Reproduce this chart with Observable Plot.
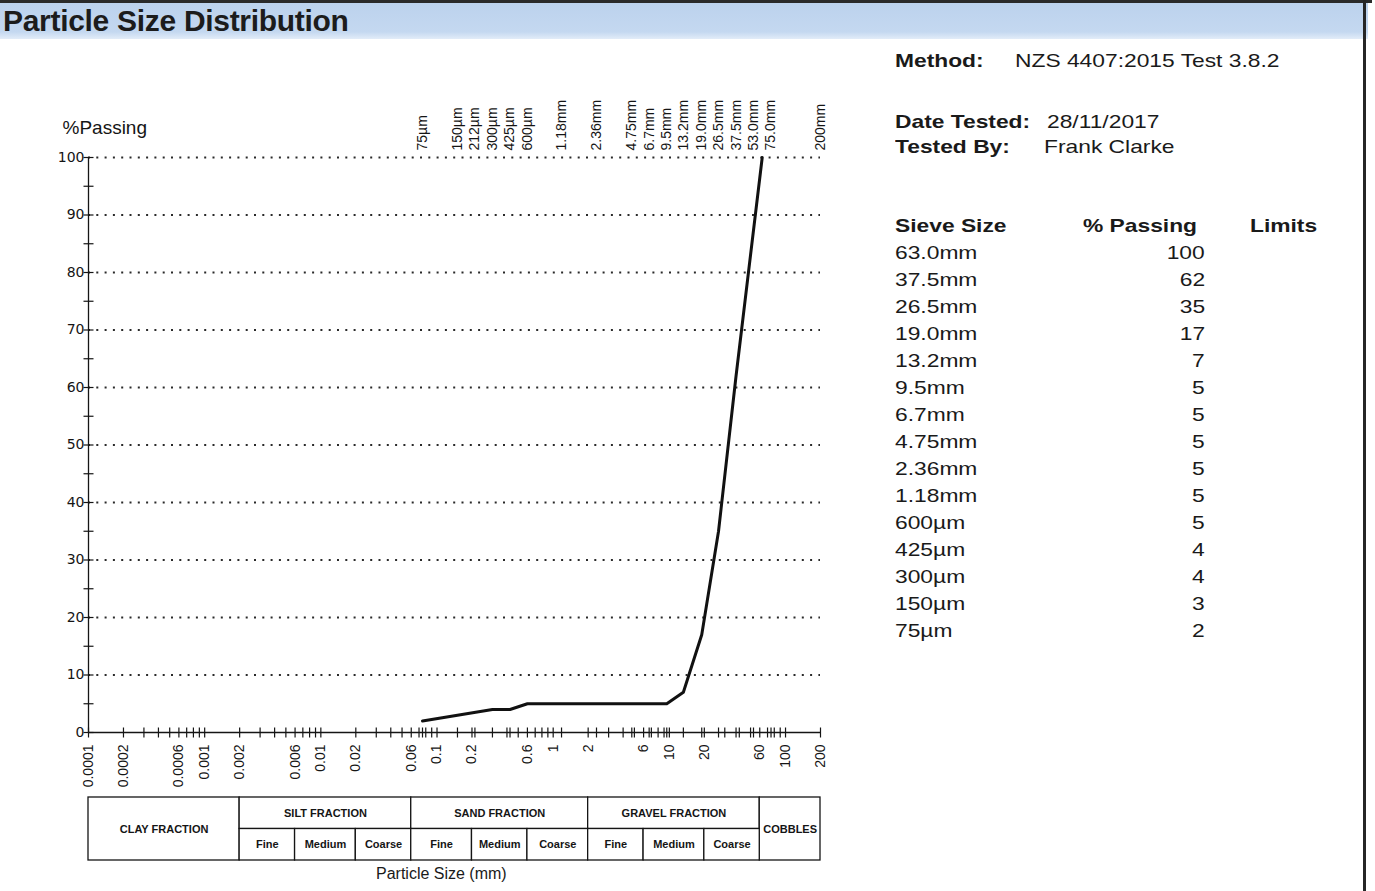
<!DOCTYPE html>
<html>
<head>
<meta charset="utf-8">
<script src="https://cdn.jsdelivr.net/npm/d3@7"></script>
<script src="https://cdn.jsdelivr.net/npm/@observablehq/plot@0.6"></script>
<style>
  html, body { margin: 0; padding: 0; background: #fff; }
  body { width: 1375px; height: 891px; overflow: hidden; position: relative;
         font-family: "Liberation Sans", Arial, sans-serif; color: #1a1a1a; }
  #topline { position: absolute; left: 0; top: 0; width: 1372px; height: 3px; background: #2a2a2a; }
  #band { position: absolute; left: 0; top: 3px; width: 1368px; height: 36px;
          background: linear-gradient(#bcd2ed 0%, #c4d8f0 80%, #e2ecf8 100%); }
  #title { position: absolute; left: 3px; top: 3px; font-weight: bold; font-size: 30px;
           line-height: 36px; color: #1c1c1c; white-space: nowrap; letter-spacing: -0.3px; }
  #rightline { position: absolute; left: 1363px; top: 0; width: 3px; height: 891px; background: #262626; }
  .t { position: absolute; font-size: 19px; line-height: 19px; white-space: nowrap; }
  .b { font-weight: bold; }
  #chart, #table { position: absolute; left: 0; }
  #chart { top: 40px; }
  #table { top: 790px; }
  #xlabel { position: absolute; left: 376px; top: 865px; font-size: 16px; line-height: 18px; white-space: nowrap; }
</style>
</head>
<body>
<div id="topline"></div>
<div id="band"></div>
<div id="title">Particle Size Distribution</div>
<div id="rightline"></div>
<div id="chart"></div>
<div id="table"></div>
<div id="xlabel">Particle Size (mm)</div>
<div id="info"></div>
<script>
// ---------- data ----------
const sieveSizesMm = [0.075, 0.15, 0.3, 0.425, 0.6, 1.18, 2.36, 4.75, 6.7, 9.5, 13.2, 19.0, 26.5, 37.5, 63.0];
const percentPassing = [2, 3, 4, 4, 5, 5, 5, 5, 5, 5, 7, 17, 35, 62, 100];

const topSieveLabels = ["75µm","150µm","212µm","300µm","425µm","600µm","1.18mm","2.36mm","4.75mm","6.7mm","9.5mm","13.2mm","19.0mm","26.5mm","37.5mm","53.0mm","75.0mm","200mm"];
const topSieveSizes = [0.075, 0.15, 0.212, 0.3, 0.425, 0.6, 1.18, 2.36, 4.75, 6.7, 9.5, 13.2, 19.0, 26.5, 37.5, 53.0, 75.0, 200];

const xLabelTicks = [0.0001, 0.0002, 0.0006, 0.001, 0.002, 0.006, 0.01, 0.02, 0.06, 0.1, 0.2, 0.6, 1, 2, 6, 10, 20, 60, 100, 200];
const yLabelTicks = [0, 10, 20, 30, 40, 50, 60, 70, 80, 90, 100];
const yMinorTicks = [5, 15, 25, 35, 45, 55, 65, 75, 85, 95];
const xDomain = [0.0001, 200];

const fractionNames = ["CLAY FRACTION", "SILT FRACTION", "SAND FRACTION", "GRAVEL FRACTION", "COBBLES"];
const fractionFrom = [0.0001, 0.002, 0.06, 2, 60];
const fractionTo = [0.002, 0.06, 2, 60, 200];
const fractionRows = [2, 1, 1, 1, 2];
const subNames = ["Fine", "Medium", "Coarse", "Fine", "Medium", "Coarse", "Fine", "Medium", "Coarse"];
const subFrom = [0.002, 0.006, 0.02, 0.06, 0.2, 0.6, 2, 6, 20];
const subTo = [0.006, 0.02, 0.06, 0.2, 0.6, 2, 6, 20, 60];

const tableSieve = ["63.0mm","37.5mm","26.5mm","19.0mm","13.2mm","9.5mm","6.7mm","4.75mm","2.36mm","1.18mm","600µm","425µm","300µm","150µm","75µm"];
const tablePassing = [100, 62, 35, 17, 7, 5, 5, 5, 5, 5, 5, 4, 4, 3, 2];

// ---------- chart ----------
const curve = sieveSizesMm.map((s, i) => ({size: s, pass: percentPassing[i]}));
const xMinorTicks = Array.from(new Set([...d3.scaleLog().domain(xDomain).ticks(), ...topSieveSizes]))
  .filter(v => v >= xDomain[0] && v <= xDomain[1]);
const hTick = {draw(c) { c.moveTo(-5, 0); c.lineTo(5, 0); }};
const vTick = {draw(c) { c.moveTo(0, -5); c.lineTo(0, 5); }};
const fontFamily = "'Liberation Sans', Arial, sans-serif";

const chart = Plot.plot({
  width: 840, height: 757,
  marginLeft: 88, marginRight: 20, marginTop: 117, marginBottom: 65,
  style: {fontFamily, color: "#151515", background: "transparent", overflow: "visible"},
  x: {type: "log", domain: xDomain, axis: null},
  y: {domain: [0, 100], axis: null},
  marks: [
    Plot.ruleY(yLabelTicks.filter(d => d > 0), {stroke: "#2a2a2a", strokeWidth: 2, strokeDasharray: "2,6.3"}),
    Plot.ruleY([0], {stroke: "#151515", strokeWidth: 1.3}),
    Plot.ruleX([xDomain[0]], {stroke: "#151515", strokeWidth: 1.3}),
    Plot.dot([...yLabelTicks, ...yMinorTicks], {x: xDomain[0], y: d => d, symbol: hTick, fill: "none", stroke: "#151515", strokeWidth: 1.2}),
    Plot.dot(xMinorTicks, {x: d => d, y: 0, symbol: vTick, fill: "none", stroke: "#151515", strokeWidth: 1.2}),
    Plot.text(yLabelTicks, {x: xDomain[0], y: d => d, text: d => String(d), textAnchor: "end", dx: -4, fontSize: 14, fontFamily: "'DejaVu Sans', sans-serif", fill: "#151515"}),
    Plot.text(xLabelTicks, {x: d => d, y: 0, text: d => String(d), rotate: -90, textAnchor: "end", dy: 12, fontSize: 14, fill: "#151515"}),
    Plot.line(curve, {x: "size", y: "pass", stroke: "#111", strokeWidth: 3, strokeLinejoin: "round"}),
    Plot.text(topSieveSizes, {x: d => d, y: 100, text: (d, i) => topSieveLabels[i], rotate: -90, textAnchor: "start", dy: -7, fontSize: 14, fill: "#151515"}),
    Plot.text(["%Passing"], {frameAnchor: "top-left", dx: -26, dy: -30, textAnchor: "start", lineAnchor: "middle", fontSize: 19, fill: "#151515"})
  ]
});
document.getElementById("chart").appendChild(chart);

// ---------- fraction table ----------
const fractions = fractionNames.map((n, i) => ({name: n, x1: fractionFrom[i], x2: fractionTo[i], y1: 0, y2: fractionRows[i]}));
const subs = subNames.map((n, i) => ({name: n, x1: subFrom[i], x2: subTo[i], y1: 1, y2: 2}));
const table = Plot.plot({
  width: 840, height: 75,
  marginLeft: 88, marginRight: 20, marginTop: 7, marginBottom: 5,
  style: {fontFamily, color: "#151515", background: "transparent", overflow: "visible"},
  x: {type: "log", domain: xDomain, axis: null},
  y: {domain: [0, 2], reverse: true, axis: null},
  marks: [
    Plot.rect([...fractions, ...subs], {x1: "x1", x2: "x2", y1: "y1", y2: "y2", fill: "white", stroke: "#151515", strokeWidth: 1.3, inset: 0}),
    Plot.text([...fractions, ...subs], {x: d => Math.sqrt(d.x1 * d.x2), y: d => (d.y1 + d.y2) / 2, text: "name", fontSize: 11, fontWeight: "bold", fill: "#151515"})
  ]
});
document.getElementById("table").appendChild(table);

// ---------- right-hand info panel ----------
const info = document.getElementById("info");
function put(text, x, yc, bold, anchorEnd) {
  const s = document.createElement("div");
  s.className = "t" + (bold ? " b" : "");
  s.textContent = text;
  s.style.top = (yc - 9.5) + "px";
  if (anchorEnd) {
    s.style.right = (1375 - x) + "px";
    s.style.transformOrigin = "right center";
  } else {
    s.style.left = x + "px";
    s.style.transformOrigin = "left center";
  }
  s.style.transform = "scaleX(1.2)";
  info.appendChild(s);
}
put("Method:", 895, 60, true);
put("NZS 4407:2015 Test 3.8.2", 1015, 60, false);
put("Date Tested:", 895, 121, true);
put("28/11/2017", 1047, 121, false);
put("Tested By:", 895, 146, true);
put("Frank Clarke", 1044, 146, false);
put("Sieve Size", 895, 225, true);
put("% Passing", 1083, 225, true);
put("Limits", 1250, 225, true);
tableSieve.forEach((s, i) => {
  put(s, 895, 252 + 27 * i, false);
  put(String(tablePassing[i]), 1205, 252 + 27 * i, false, true);
});
</script>
</body>
</html>
